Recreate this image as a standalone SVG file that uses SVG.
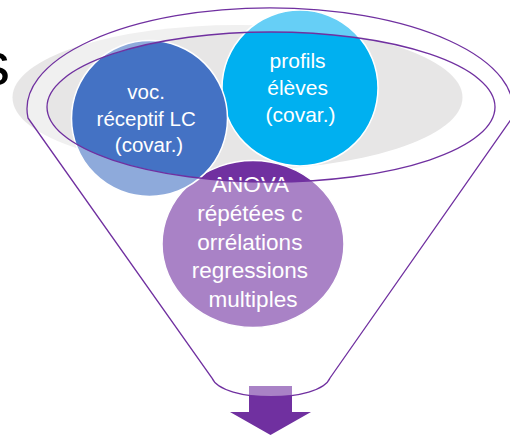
<svg xmlns="http://www.w3.org/2000/svg" width="510" height="435" viewBox="0 0 510 435">
  <style>
    .lbl { font-family: "Liberation Sans", Arial, sans-serif; fill: #ffffff; text-anchor: middle; }
    .bubble { stroke: #ffffff; stroke-width: 1.5; }
    .rim { fill: none; stroke: #7030A0; stroke-width: 1.3; }
  </style>
  <rect width="510" height="435" fill="#ffffff"/>
  <text x="10" y="85" font-family="Liberation Sans, Arial, sans-serif" font-size="62" fill="#000000" text-anchor="end">s</text>

  <ellipse id="funnel-top" cx="237.5" cy="97.5" rx="225" ry="72.5" fill="#E7E6E6"/>

  <g id="node-anova">
    <ellipse class="bubble" cx="253" cy="244" rx="91" ry="83.5" fill="#7030A0"/>
    <text class="lbl" font-size="22.5">
      <tspan x="253" y="191.5">ANOVA</tspan>
      <tspan x="253" y="220.5">répétées c</tspan>
      <tspan x="253" y="249.5">orrélations</tspan>
      <tspan x="253" y="278">regressions</tspan>
      <tspan x="253" y="306.5">multiples</tspan>
    </text>
  </g>

  <g id="node-profils">
    <circle class="bubble" cx="300" cy="88" r="78" fill="#00B0F0"/>
    <text class="lbl" font-size="21">
      <tspan x="300.5" y="68">profils</tspan>
      <tspan x="300.5" y="95">élèves</tspan>
      <tspan x="300.5" y="122">(covar.)</tspan>
    </text>
  </g>

  <g id="node-voc">
    <circle class="bubble" cx="149.5" cy="118.5" r="78" fill="#4472C4"/>
    <text class="lbl" font-size="20.5">
      <tspan x="149" y="98.5">voc.</tspan>
      <tspan x="149" y="125.5">réceptif LC</tspan>
      <tspan x="149" y="152">(covar.)</tspan>
    </text>
  </g>

  <g id="output-arrow">
    <path d="M249,386 H292 V412 H311 L270.5,435 L230,412 H249 Z" fill="#7030A0"/>
  </g>

  <g id="funnel">
    <path fill="#ffffff" fill-opacity="0.4" fill-rule="evenodd"
          d="M28,118 L212,378 C222,403 320,403 330,378 L512,118 A243,101 0 1 0 28,118 Z
             M47,107 A224,75 0 1 0 495,107 A224,75 0 1 0 47,107 Z"/>
    <path class="rim" d="M28,118 L212,378 C222,403 320,403 330,378 L512,118 A243,101 0 1 0 28,118 Z"/>
    <ellipse class="rim" cx="271" cy="107" rx="224" ry="75"/>
  </g>
</svg>
